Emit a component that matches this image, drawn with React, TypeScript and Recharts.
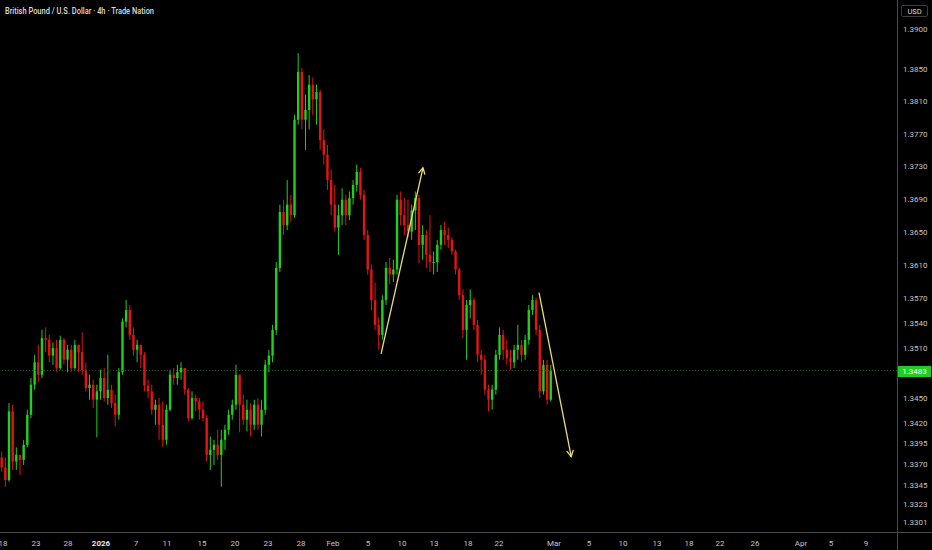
import React from 'react';
import { ComposedChart, Bar, XAxis, YAxis, ReferenceLine } from 'recharts';

// GBP/USD 4h candles (open = previous close)
const firstOpen = 1.3379;

const highs = [
  1.3386, 1.3379, 1.3444, 1.3442, 1.3391, 1.3382, 1.34, 1.3436, 1.3474, 1.3502,
  1.3514, 1.3532, 1.3535, 1.3526, 1.3517, 1.352, 1.3525, 1.3522, 1.3514, 1.3514,
  1.352, 1.3514, 1.3529, 1.3493, 1.3478, 1.3472, 1.3466, 1.3484, 1.3486, 1.3502,
  1.3466, 1.3454, 1.3486, 1.3546, 1.3568, 1.3562, 1.3535, 1.352, 1.3514, 1.3505,
  1.3472, 1.3466, 1.3448, 1.345, 1.3446, 1.3442, 1.3484, 1.3486, 1.349, 1.3493,
  1.3486, 1.3462, 1.3458, 1.3454, 1.345, 1.3446, 1.343, 1.3404, 1.34, 1.3412,
  1.3412, 1.3418, 1.3436, 1.3448, 1.349, 1.3466, 1.3454, 1.3448, 1.3444, 1.3448,
  1.345, 1.3448, 1.3496, 1.3508, 1.3538, 1.3614, 1.3684, 1.369, 1.3714, 1.3696,
  1.3794, 1.387, 1.3852, 1.3819, 1.3843, 1.384, 1.3831, 1.3825, 1.3776, 1.3757,
  1.3727, 1.3708, 1.3684, 1.3704, 1.3696, 1.37, 1.3714, 1.3733, 1.3729, 1.3702,
  1.3653, 1.3611, 1.3589, 1.3547, 1.3574, 1.3614, 1.3619, 1.3617, 1.3696, 1.37,
  1.3692, 1.369, 1.3684, 1.37, 1.3696, 1.3659, 1.3653, 1.3671, 1.3627, 1.3641,
  1.3659, 1.3663, 1.3656, 1.3644, 1.3629, 1.3607, 1.3581, 1.3568, 1.3581, 1.3571,
  1.3544, 1.3508, 1.3502, 1.3466, 1.3466, 1.3508, 1.3535, 1.3532, 1.352, 1.3508,
  1.3514, 1.3538, 1.352, 1.3526, 1.3562, 1.3574, 1.3571, 1.3538, 1.3496, 1.3496,
  1.349,
];

const lows = [
  1.3362, 1.3344, 1.335, 1.3364, 1.3364, 1.3358, 1.337, 1.3391, 1.3426, 1.346,
  1.3469, 1.3474, 1.3505, 1.3493, 1.349, 1.3481, 1.3484, 1.349, 1.3481, 1.3481,
  1.3484, 1.3481, 1.3478, 1.3458, 1.3448, 1.3438, 1.3403, 1.3448, 1.3446, 1.3442,
  1.3438, 1.3416, 1.3424, 1.3478, 1.3535, 1.352, 1.3501, 1.3493, 1.3486, 1.3458,
  1.345, 1.343, 1.3418, 1.34, 1.3392, 1.3394, 1.3434, 1.3466, 1.3466, 1.3472,
  1.3454, 1.3422, 1.3424, 1.3434, 1.3424, 1.3422, 1.3374, 1.3364, 1.337, 1.3376,
  1.3344, 1.3388, 1.3406, 1.3424, 1.3436, 1.3409, 1.3418, 1.341, 1.3404, 1.3412,
  1.3412, 1.3404, 1.343, 1.3481, 1.3493, 1.3526, 1.3602, 1.3647, 1.3653, 1.3663,
  1.3668, 1.3782, 1.3776, 1.3751, 1.3776, 1.3794, 1.3782, 1.3751, 1.3733, 1.3702,
  1.3671, 1.3651, 1.3623, 1.3659, 1.3659, 1.3665, 1.3684, 1.37, 1.369, 1.3641,
  1.3599, 1.3556, 1.3532, 1.3508, 1.352, 1.3562, 1.3587, 1.359, 1.3599, 1.3659,
  1.3647, 1.3644, 1.3641, 1.3653, 1.3613, 1.3617, 1.3607, 1.3602, 1.3599, 1.3602,
  1.3629, 1.3635, 1.3631, 1.3623, 1.3599, 1.3568, 1.3522, 1.3496, 1.3546, 1.3532,
  1.3493, 1.3478, 1.3454, 1.3434, 1.3436, 1.3454, 1.3496, 1.3496, 1.349, 1.3484,
  1.3486, 1.3496, 1.3493, 1.3496, 1.3514, 1.355, 1.3526, 1.345, 1.3454, 1.3442,
  1.3446,
];

const closes = [
  1.3367, 1.3352, 1.3434, 1.3374, 1.3382, 1.3376, 1.3394, 1.343, 1.3466, 1.3493,
  1.3478, 1.3522, 1.352, 1.3501, 1.351, 1.3486, 1.352, 1.3496, 1.3508, 1.3486,
  1.3514, 1.3505, 1.3484, 1.3462, 1.3466, 1.3448, 1.3458, 1.3474, 1.345, 1.346,
  1.3444, 1.343, 1.3481, 1.3542, 1.3556, 1.3526, 1.3508, 1.3514, 1.3502, 1.3465,
  1.3458, 1.3436, 1.3442, 1.3418, 1.34, 1.3436, 1.3478, 1.3474, 1.3481, 1.3486,
  1.346, 1.3426, 1.345, 1.3446, 1.3436, 1.3426, 1.3382, 1.3388, 1.3394, 1.3382,
  1.34, 1.3412, 1.343, 1.3442, 1.3478, 1.3442, 1.3424, 1.3436, 1.3418, 1.3442,
  1.3418, 1.3436, 1.349, 1.3501, 1.3532, 1.3607, 1.3675, 1.3659, 1.3684, 1.3671,
  1.3788, 1.3847, 1.3788, 1.38, 1.3831, 1.3813, 1.3822, 1.3763, 1.3745, 1.3714,
  1.3684, 1.3656, 1.3671, 1.369, 1.3671, 1.3692, 1.3708, 1.3724, 1.3696, 1.3647,
  1.3605, 1.3568, 1.3538, 1.3526, 1.3568, 1.3607, 1.3599, 1.3605, 1.369, 1.3671,
  1.3659, 1.3651, 1.3677, 1.3692, 1.3635, 1.3647, 1.3623, 1.3614, 1.3614, 1.3635,
  1.3653, 1.3647, 1.3641, 1.3627, 1.3605, 1.3574, 1.3532, 1.3562, 1.3568, 1.3538,
  1.3502, 1.3496, 1.346, 1.3448, 1.346, 1.3502, 1.3526, 1.3508, 1.3498, 1.3493,
  1.3508, 1.3514, 1.3502, 1.352, 1.3556, 1.3568, 1.3532, 1.3458, 1.349, 1.3448,
  1.3483,
];

const lastPrice = 1.3483;

const priceTicks = [
  1.39, 1.385, 1.381, 1.377, 1.373, 1.369, 1.365, 1.361, 1.357, 1.354, 1.351,
  1.345, 1.342, 1.3395, 1.337, 1.3345, 1.3323, 1.3301,
];

// bar-index positions of the date labels
const dateTickPos = [
  0.27, 9.28, 18.03, 27.04, 36.6, 45.07, 54.63, 63.65, 72.66, 81.68, 90.42, 99.98,
  109.27, 118.01, 127.3, 135.77, 150.8, 160.36, 169.65, 178.93, 187.67, 196.14,
  205.7, 218.27, 226.47, 236.03,
];
const dateTickLabels = [
  '18', '23', '28', '2026', '7', '11', '15', '20', '23', '28', 'Feb', '5', '10',
  '13', '18', '22', 'Mar', '5', '10', '13', '18', '22', '26', 'Apr', '5', '9',
];

// hand drawn arrows: [bar index, price] start -> end
const arrows = [
  { from: [103.55, 1.3503], to: [115.0, 1.3729] },
  { from: [146.7, 1.3577], to: [155.5, 1.338] },
];

const GREEN = '#1fd01f';
const RED = '#e81212';
const AXIS_TEXT = '#c4c4c4';
const FONT = 'Roboto, "Noto Sans", sans-serif';

const candles = closes.map((close, i) => {
  const open = i === 0 ? firstOpen : closes[i - 1];
  const high = Math.max(highs[i], open, close);
  const low = Math.min(lows[i], open, close);
  return { i, open, close, high, low, range: [low, high] };
});

const Candle = (props: any) => {
  const { x, y, width, height, payload } = props;
  if (!payload || height == null) return null;
  const { open, close, high, low } = payload;
  const cx = x + width / 2;
  const lh = Math.log(high);
  const span = lh - Math.log(low) || 1e-9;
  const toY = (p: number) => y + ((lh - Math.log(p)) / span) * height;
  const color = close >= open ? GREEN : RED;
  const top = toY(Math.max(open, close));
  const bot = toY(Math.min(open, close));
  return (
    <g>
      <line x1={cx} x2={cx} y1={y} y2={y + height} stroke={color} strokeWidth={1} />
      <rect x={cx - 1.2} y={top} width={2.4} height={Math.max(bot - top, 1)} fill={color} />
    </g>
  );
};

const ArrowShape = (props: any) => {
  const { x1, y1, x2, y2 } = props;
  const ang = Math.atan2(y2 - y1, x2 - x1);
  const len = 7;
  const ax = x2 - len * Math.cos(ang - 0.5);
  const ay = y2 - len * Math.sin(ang - 0.5);
  const bx = x2 - len * Math.cos(ang + 0.5);
  const by = y2 - len * Math.sin(ang + 0.5);
  return (
    <g stroke="#eedc78" strokeWidth={1.3} fill="none">
      <line x1={x1} y1={y1} x2={x2} y2={y2} />
      <polyline points={`${ax},${ay} ${x2},${y2} ${bx},${by}`} />
    </g>
  );
};

const DateTick = (props: any) => {
  const { x, y, index } = props;
  const label = dateTickLabels[index];
  const bold = label === '2026';
  return (
    <text
      x={x}
      y={y + 8}
      textAnchor="middle"
      dominantBaseline="central"
      fontSize={8}
      fontFamily={FONT}
      fontWeight={bold ? 700 : 400}
      fill={bold ? '#e6e6e6' : AXIS_TEXT}
    >
      {label}
    </text>
  );
};

const PriceTick = (props: any) => {
  const { x, y, payload } = props;
  return (
    <text x={x} y={y} textAnchor="start" dominantBaseline="central" fontSize={8} fontFamily={FONT} fill={AXIS_TEXT}>
      {payload.value.toFixed(4)}
    </text>
  );
};

export default function App() {
  return (
    <div style={{ position: 'relative', width: 932, height: 550, background: '#000', overflow: 'hidden' }}>
      <style>{'body{margin:0;background:#000}'}</style>
      <ComposedChart width={932} height={550} data={candles} margin={{ top: 0, right: 0, bottom: 0, left: 0 }}>
        <XAxis
          type="number"
          dataKey="i"
          domain={[-0.55, 244.5]}
          allowDataOverflow
          ticks={dateTickPos}
          interval={0}
          tick={<DateTick />}
          tickLine={false}
          tickSize={0}
          axisLine={false}
          height={17}
        />
        <YAxis
          orientation="right"
          scale="log"
          domain={[1.32891, 1.3936]}
          allowDataOverflow
          ticks={priceTicks}
          interval={0}
          tick={<PriceTick />}
          tickLine={false}
          tickSize={0}
          tickMargin={6}
          axisLine={false}
          width={35}
        />
        <ReferenceLine y={lastPrice} stroke="#1f5f1f" strokeDasharray="1 2" strokeWidth={1} />
        <Bar dataKey="range" shape={<Candle />} barSize={3} isAnimationActive={false} />
        {arrows.map((a, k) => (
          <ReferenceLine
            key={k}
            segment={[
              { x: a.from[0], y: a.from[1] },
              { x: a.to[0], y: a.to[1] },
            ]}
            ifOverflow="visible"
            shape={ArrowShape}
          />
        ))}
      </ComposedChart>

      {/* axis borders */}
      <div style={{ position: 'absolute', left: 897, top: 0, width: 1, height: 550, background: '#4a4a4a' }} />
      <div style={{ position: 'absolute', left: 0, top: 532, width: 932, height: 1, background: '#4a4a4a' }} />

      {/* title */}
      <svg style={{ position: 'absolute', left: 0, top: 0 }} width={300} height={20}>
        <text x={5} y={10.5} dominantBaseline="central" fontSize={8.5} fontFamily={FONT} fontWeight={500} fill="#dcdcdc" textLength={149} lengthAdjust="spacingAndGlyphs">
          British Pound / U.S. Dollar · 4h · Trade Nation
        </text>
      </svg>

      {/* currency box */}
      <div
        style={{
          position: 'absolute', left: 901, top: 5, width: 27, height: 12, border: '1px solid #3c3c3c', borderRadius: 2,
          color: '#dcdcdc', fontSize: 7.5, fontFamily: FONT, lineHeight: '12px', textAlign: 'center', boxSizing: 'border-box',
        }}
      >
        USD
      </div>

      {/* last price label */}
      <div
        style={{
          position: 'absolute', left: 898, top: 366, width: 33, height: 11, background: '#22cc22', color: '#fff',
          fontSize: 8, fontFamily: FONT, lineHeight: '11px', textAlign: 'center',
        }}
      >
        {lastPrice.toFixed(4)}
      </div>
    </div>
  );
}
